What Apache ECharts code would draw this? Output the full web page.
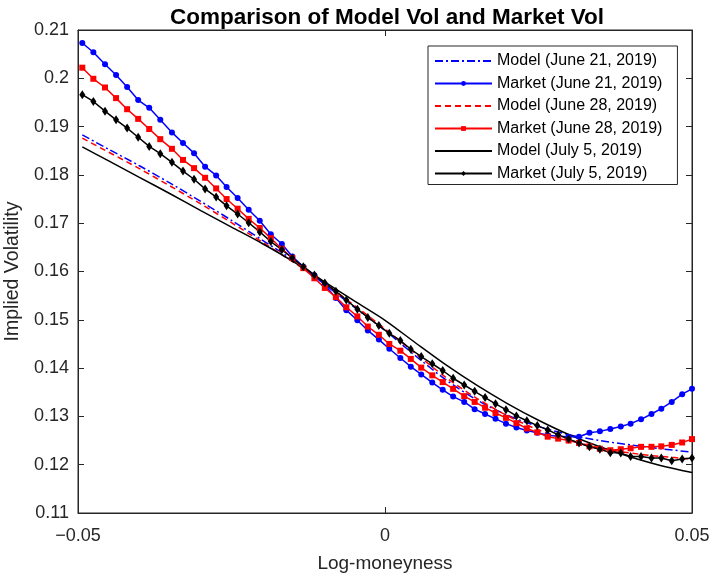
<!DOCTYPE html>
<html>
<head>
<meta charset="utf-8">
<script src="https://cdn.jsdelivr.net/npm/echarts@6/dist/echarts.min.js"></script>
<style>
html,body{margin:0;padding:0;background:#fff;}
#chart{width:709px;height:576px;}
</style>
</head>
<body>
<div id="chart"></div>
<script>
// Log-moneyness grid of the market quotes
var xMarket = [-0.0493,-0.0475,-0.0456,-0.0438,-0.0420,-0.0402,-0.0384,-0.0366,-0.0347,-0.0329,
  -0.0311,-0.0293,-0.0275,-0.0258,-0.0240,-0.0222,-0.0204,-0.0186,-0.0168,-0.0151,
  -0.0133,-0.0115,-0.0098,-0.0080,-0.0063,-0.0045,-0.0028,-0.0010,0.0007,0.0025,
  0.0042,0.0059,0.0077,0.0094,0.0111,0.0129,0.0146,0.0163,0.0180,0.0197,
  0.0214,0.0231,0.0248,0.0265,0.0282,0.0299,0.0316,0.0333,0.0350,0.0367,
  0.0384,0.0400,0.0417,0.0434,0.0450,0.0467,0.0484,0.0500];

var marketJun21 = [0.2073,0.2054,0.2029,0.2007,0.1982,0.1955,0.1939,0.1914,0.1888,0.1866,
  0.1845,0.1817,0.1799,0.1775,0.1752,0.1728,0.1705,0.1677,0.1657,0.1631,
  0.1610,0.1592,0.1572,0.1545,0.1520,0.1499,0.1478,0.1459,0.1440,0.1421,
  0.1403,0.1387,0.1370,0.1355,0.1341,0.1330,0.1315,0.1305,0.1295,0.1285,
  0.1277,0.1271,0.1266,0.1261,0.1259,0.1258,0.1258,0.1266,0.1269,0.1274,
  0.1279,0.1285,0.1294,0.1305,0.1316,0.1330,0.1346,0.1357];

var marketJun28 = [0.2022,0.1999,0.1981,0.1959,0.1936,0.1916,0.1895,0.1874,0.1854,0.1831,
  0.1814,0.1794,0.1772,0.1750,0.1730,0.1709,0.1690,0.1669,0.1647,0.1628,
  0.1607,0.1586,0.1566,0.1547,0.1526,0.1507,0.1486,0.1469,0.1450,0.1436,
  0.1419,0.1401,0.1385,0.1371,0.1357,0.1342,0.1330,0.1318,0.1307,0.1297,
  0.1286,0.1275,0.1267,0.1258,0.1254,0.1250,0.1245,0.1238,0.1233,0.1230,
  0.1232,0.1234,0.1237,0.1237,0.1238,0.1241,0.1246,0.1253];

var marketJul5 = [0.1966,0.1952,0.1932,0.1914,0.1897,0.1878,0.1859,0.1844,0.1826,0.1808,
  0.1791,0.1771,0.1754,0.1736,0.1719,0.1701,0.1682,0.1662,0.1645,0.1628,
  0.1610,0.1593,0.1576,0.1559,0.1541,0.1522,0.1505,0.1488,0.1472,0.1457,
  0.1439,0.1424,0.1409,0.1395,0.1379,0.1365,0.1352,0.1339,0.1326,0.1314,
  0.1301,0.1291,0.1281,0.1272,0.1262,0.1253,0.1245,0.1237,0.1232,0.1225,
  0.1224,0.1217,0.1217,0.1214,0.1214,0.1208,0.1212,0.1214];

// Model curves
var xModel = [-0.0493,-0.045,-0.04,-0.035,-0.03,-0.025,-0.02,-0.015,-0.01,-0.005,
  0,0.005,0.01,0.015,0.02,0.025,0.03,0.035,0.04,0.045,0.05];
var modelJun21 = [0.1883,0.1853,0.1819,0.1783,0.1745,0.1706,0.1665,0.1624,0.1575,0.1526,
  0.1478,0.1425,0.1375,0.1334,0.1302,0.1279,0.1262,0.1250,0.1241,0.1233,0.1226];
var modelJun28 = [0.1876,0.1847,0.1813,0.1777,0.1740,0.1701,0.1661,0.1620,0.1577,0.1530,
  0.1481,0.1430,0.1380,0.1337,0.1301,0.1272,0.1251,0.1235,0.1224,0.1217,0.1212];
var modelJul5 = [0.1858,0.1829,0.1795,0.1761,0.1726,0.1692,0.1658,0.1621,0.1580,0.1539,
  0.1499,0.1452,0.1406,0.1364,0.1326,0.1292,0.1262,0.1237,0.1216,0.1198,0.1184];

var seriesNames = ['Model (June 21, 2019)','Market (June 21, 2019)','Model (June 28, 2019)',
  'Market (June 28, 2019)','Model (July 5, 2019)','Market (July 5, 2019)'];

function pairs(xs, ys){ return xs.map(function(x,i){ return [x, ys[i]]; }); }

var FONT = '"Liberation Sans", Arial, Helvetica, sans-serif';
var AX = '#262626';

var chart = echarts.init(document.getElementById('chart'), null, {renderer:'canvas'});

function modelSeries(name, xs, ys, color, dash){
  return {name:name, type:'line', data:pairs(xs,ys), showSymbol:false, symbol:'none',
    smooth:0.3, lineStyle:{color:color, width:1.5, type:dash}, itemStyle:{color:color},
    z:2, silent:true};
}
function marketSeries(name, xs, ys, color, symbol, size){
  return {name:name, type:'line', data:pairs(xs,ys), symbol:symbol, symbolSize:size,
    lineStyle:{color:color, width:1.5}, itemStyle:{color:color}, z:3, silent:true};
}

var option = {
  animation:false,
  backgroundColor:'#fff',
  textStyle:{fontFamily:FONT},
  title:{
    text:'Comparison of Model Vol and Market Vol',
    left:382, top:1, textAlign:'center',
    textStyle:{fontFamily:FONT, fontWeight:'bold', fontSize:22.5, color:'#000'}
  },
  legend:{
    orient:'vertical', left:428, top:46,
    padding:[7,15,3,6], itemGap:6.5, itemWidth:57, itemHeight:6,
    borderColor:AX, borderWidth:1, backgroundColor:'#fff',
    textStyle:{fontFamily:FONT, fontSize:16, color:'#000'},
    data:[
      {name:seriesNames[0], itemStyle:{opacity:0}},
      {name:seriesNames[1]},
      {name:seriesNames[2], itemStyle:{opacity:0}},
      {name:seriesNames[3]},
      {name:seriesNames[4], itemStyle:{opacity:0}},
      {name:seriesNames[5]}
    ]
  },
  grid:{left:78, right:17, top:30, bottom:63, containLabel:false, outerBoundsMode:'none',
    show:true, borderColor:AX, borderWidth:1},
  xAxis:[{
    type:'value', min:-0.05, max:0.05, interval:0.05,
    name:'Log-moneyness', nameLocation:'middle', nameGap:41,
    nameTextStyle:{fontFamily:FONT, fontSize:19, color:AX},
    axisLine:{show:true, onZero:false, lineStyle:{color:AX, width:1}},
    axisTick:{show:true, inside:true, length:6, lineStyle:{color:AX}},
    splitLine:{show:false},
    axisLabel:{fontFamily:FONT, fontSize:18, color:AX, margin:14, hideOverlap:false,
      showMinLabel:true, showMaxLabel:true,
      formatter:function(v){ if(Math.abs(v)<1e-9) return '0'; return v<0 ? '\u2212'+Math.abs(v).toFixed(2) : v.toFixed(2); }}
  },{
    type:'value', position:'top', min:-0.05, max:0.05, interval:0.05,
    axisLine:{show:true, onZero:false, lineStyle:{color:AX, width:1}},
    axisTick:{show:true, inside:true, length:6, lineStyle:{color:AX}},
    axisLabel:{show:false}, splitLine:{show:false}
  }],
  yAxis:[{
    type:'value', min:0.11, max:0.21, interval:0.01,
    name:'Implied Volatility', nameLocation:'middle', nameGap:52, nameRotate:90,
    nameTextStyle:{fontFamily:FONT, fontSize:19.5, color:AX},
    axisLine:{show:true, onZero:false, lineStyle:{color:AX, width:1}},
    axisTick:{show:true, inside:true, length:6, lineStyle:{color:AX}},
    splitLine:{show:false},
    axisLabel:{fontFamily:FONT, fontSize:18, color:AX, margin:9,
      formatter:function(v){ return String(Math.round(v*100)/100); }}
  },{
    type:'value', position:'right', min:0.11, max:0.21, interval:0.01,
    axisLine:{show:true, onZero:false, lineStyle:{color:AX, width:1}},
    axisTick:{show:true, inside:true, length:6, lineStyle:{color:AX}},
    axisLabel:{show:false}, splitLine:{show:false}
  }],
  series:[
    modelSeries(seriesNames[0], xModel, modelJun21, '#0000ff', [8,3,2,3]),
    marketSeries(seriesNames[1], xMarket, marketJun21, '#0000ff', 'circle', 6),
    modelSeries(seriesNames[2], xModel, modelJun28, '#ff0000', [6,4]),
    marketSeries(seriesNames[3], xMarket, marketJun28, '#ff0000', 'rect', 6),
    modelSeries(seriesNames[4], xModel, modelJul5, '#000000', 'solid'),
    marketSeries(seriesNames[5], xMarket, marketJul5, '#000000', 'diamond', [6,9])
  ]
};
chart.setOption(option);
</script>
</body>
</html>
